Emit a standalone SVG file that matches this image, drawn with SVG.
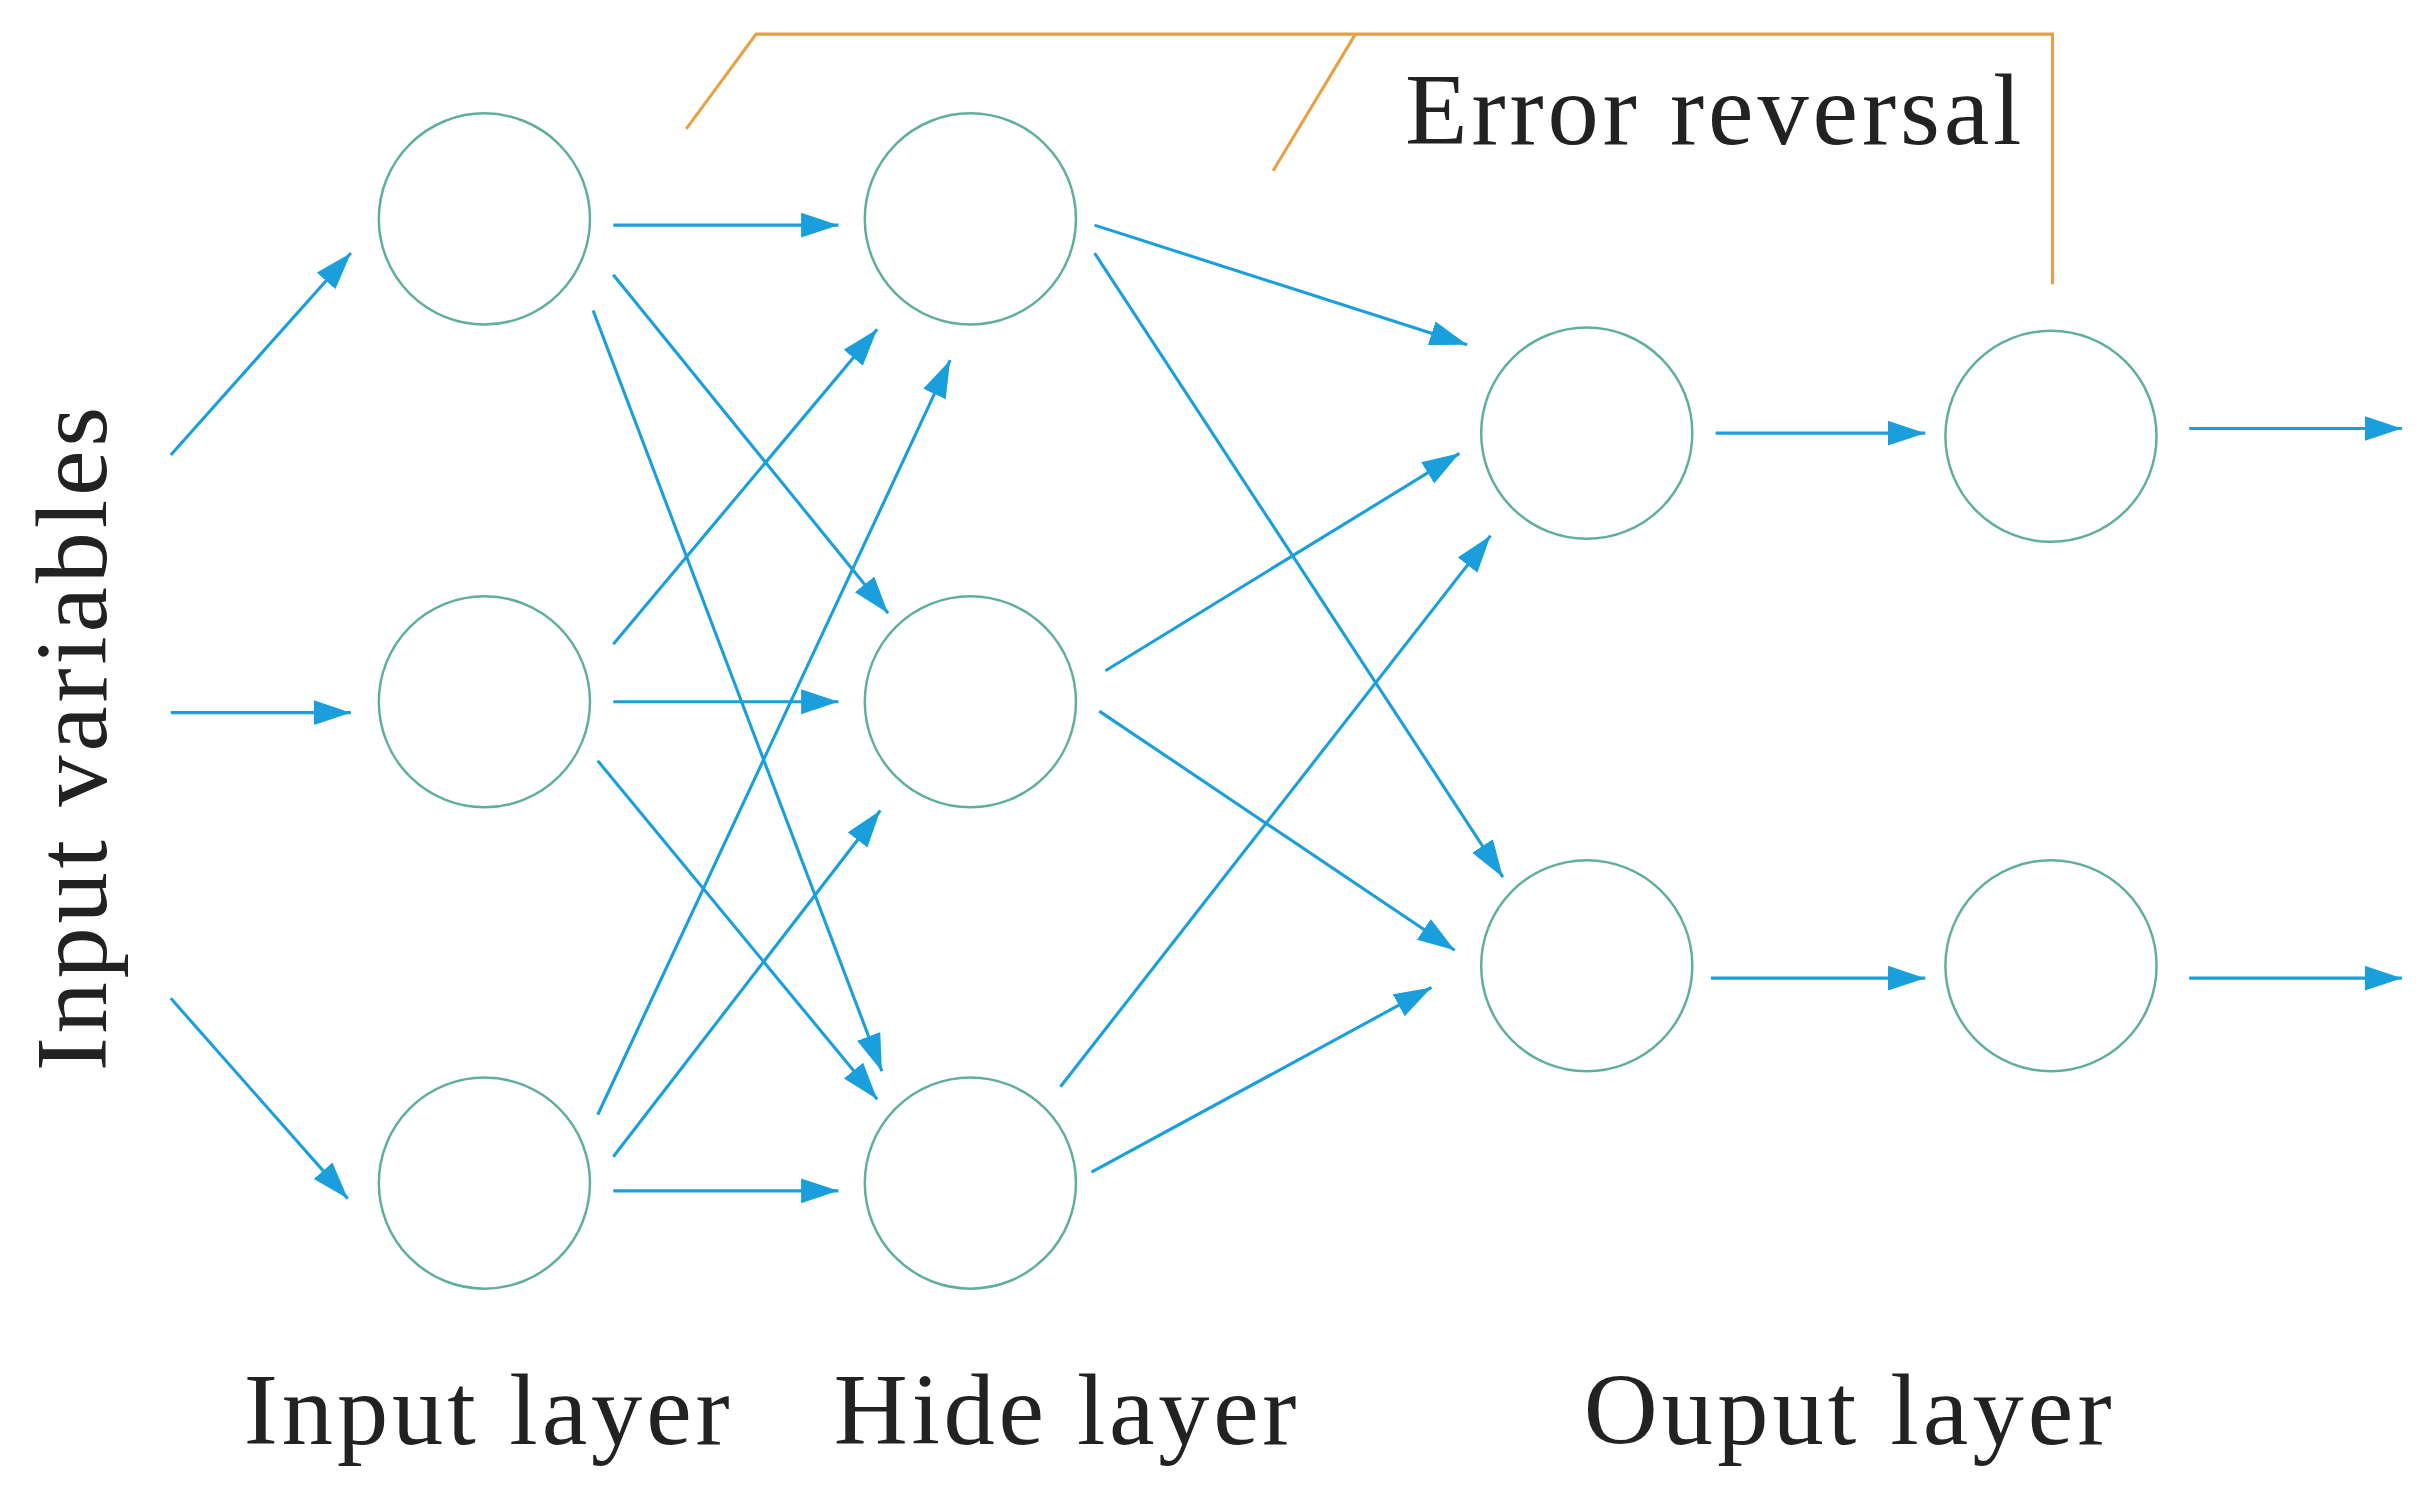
<svg xmlns="http://www.w3.org/2000/svg" width="2422" height="1485" viewBox="0 0 2422 1485">
<style>
.n{fill:none;stroke:#5fae9e;stroke-width:1.6}
.c line{stroke:#1a9fdc;stroke-width:2;marker-end:url(#a)}
.o{fill:none;stroke:#e8a045;stroke-width:2}
text{font-family:"Liberation Serif",serif;fill:#222;font-size:66px}
</style>
<defs><marker id="a" markerUnits="userSpaceOnUse" markerWidth="26" markerHeight="18" refX="24" refY="8" orient="auto"><path d="M0,0L24,8L0,16Z" fill="#1a9fdc"/></marker></defs>
<rect width="2422" height="1485" fill="#fff"/>
<g transform="scale(1.5526)">
<g id="i1"><circle class="n" cx="312" cy="141" r="68"/></g>
<g id="i2"><circle class="n" cx="312" cy="452" r="68"/></g>
<g id="i3"><circle class="n" cx="312" cy="762" r="68"/></g>
<g id="h1"><circle class="n" cx="625" cy="141" r="68"/></g>
<g id="h2"><circle class="n" cx="625" cy="452" r="68"/></g>
<g id="h3"><circle class="n" cx="625" cy="762" r="68"/></g>
<g id="o1"><circle class="n" cx="1022" cy="279" r="68"/></g>
<g id="o2"><circle class="n" cx="1022" cy="622" r="68"/></g>
<g id="p1"><circle class="n" cx="1321" cy="281" r="68"/></g>
<g id="p2"><circle class="n" cx="1321" cy="622" r="68"/></g>
<g class="c">
<line x1="110" y1="293" x2="226" y2="163"/>
<line x1="110" y1="459" x2="226" y2="459"/>
<line x1="110" y1="643" x2="224" y2="772"/>
<line x1="395" y1="145" x2="540" y2="145"/>
<line x1="395" y1="177" x2="572" y2="395"/>
<line x1="382" y1="200" x2="568" y2="690"/>
<line x1="395" y1="415" x2="565" y2="212"/>
<line x1="395" y1="452" x2="540" y2="452"/>
<line x1="385" y1="490" x2="565" y2="708"/>
<line x1="385" y1="718" x2="612" y2="232"/>
<line x1="395" y1="745" x2="567" y2="522"/>
<line x1="395" y1="767" x2="540" y2="767"/>
<line x1="705" y1="145" x2="945" y2="222"/>
<line x1="705" y1="163" x2="968" y2="565"/>
<line x1="712" y1="432" x2="940" y2="292"/>
<line x1="708" y1="458" x2="937" y2="612"/>
<line x1="683" y1="700" x2="960" y2="345"/>
<line x1="703" y1="755" x2="922" y2="636"/>
<line x1="1105" y1="279" x2="1240" y2="279"/>
<line x1="1102" y1="630" x2="1240" y2="630"/>
<line x1="1410" y1="276" x2="1547" y2="276"/>
<line x1="1410" y1="630" x2="1547" y2="630"/>
</g>
<g id="err">
<path class="o" d="M442,83L487,22L1322,22L1322,183M820,110L873,22"/>
<text x="905" y="93" textLength="397">Error reversal</text>
</g>
<text x="157" y="930" textLength="313">Input layer</text>
<text x="537" y="930" textLength="298">Hide layer</text>
<text x="1020" y="930" textLength="340">Ouput layer</text>
<text transform="translate(68,690) rotate(-90)" textLength="428">Input variables</text>
</g>
</svg>
